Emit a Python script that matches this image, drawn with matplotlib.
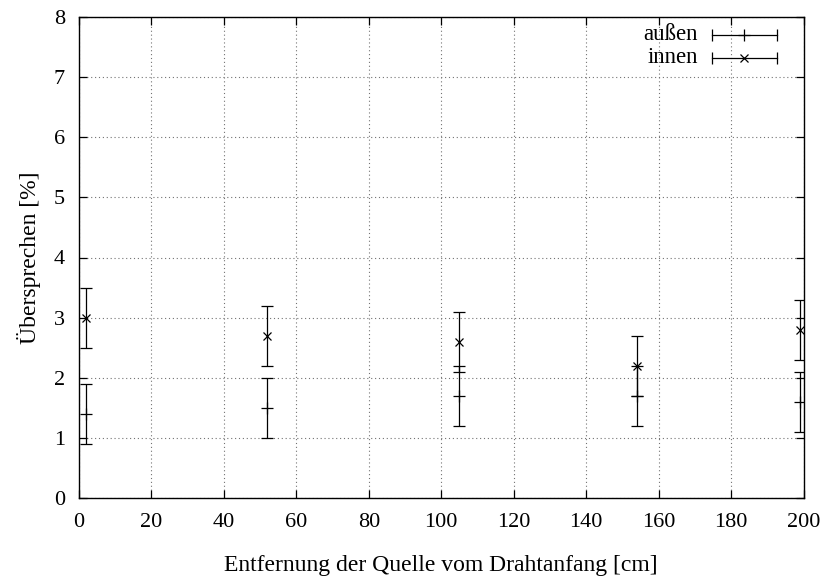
import matplotlib
matplotlib.use("Agg")
import matplotlib.pyplot as plt

plt.rcParams['font.family'] = ['Liberation Serif', 'DejaVu Serif']

x = [2, 52, 105, 154, 199]
aussen = [1.4, 1.5, 1.7, 1.7, 1.6]
aussen_err = [0.5, 0.5, 0.5, 0.5, 0.5]
innen = [3.0, 2.7, 2.6, 2.2, 2.8]
innen_err = [0.5, 0.5, 0.5, 0.5, 0.5]
xticks = [0, 20, 40, 60, 80, 100, 120, 140, 160, 180, 200]
yticks = [0, 1, 2, 3, 4, 5, 6, 7, 8]

FS = 16.5

fig = plt.figure(figsize=(8.24, 5.82), dpi=100)
ax = fig.add_axes([79/824, 1-498/582, 724.5/824, 481/582])

ekw = dict(color='black', linestyle='none', elinewidth=0.9, capsize=4, capthick=0.9,
           markeredgewidth=0.9)
ax.errorbar(x, aussen, yerr=aussen_err, marker='+', markersize=8, **ekw)
ax.errorbar(x, innen, yerr=innen_err, marker='x', markersize=6, **ekw)

ax.set_xlim(0, 200)
ax.set_ylim(0, 8)
ax.set_xticks(xticks)
ax.set_yticks(yticks)
ax.tick_params(direction='in', length=5.5, width=0.9, top=True, right=True,
               labelsize=16)
ax.tick_params(axis='x', pad=11)
ax.tick_params(axis='y', pad=10)
ax.grid(True, linestyle=(0, (1, 2.5)), color='0.45', linewidth=0.8)
for s in ax.spines.values():
    s.set_linewidth(1.0)

ax.set_xlabel('Entfernung der Quelle vom Drahtanfang [cm]', fontsize=17, labelpad=16)
ax.set_ylabel('Übersprechen [%]', fontsize=17, labelpad=9)

# gnuplot-style key
tr = ax.transAxes
for yy, label, mk, ms in [(0.9626, 'außen', '+', 8), (0.9148, 'innen', 'x', 6)]:
    ax.text(0.854, yy, label, transform=tr, ha='right', va='center', fontsize=FS)
    ax.plot([0.874, 0.963], [yy, yy], transform=tr, color='black', lw=0.9, clip_on=False)
    ax.plot([0.874, 0.963], [yy, yy], transform=tr, color='black', lw=0, marker='|',
            markersize=8, markeredgewidth=0.9, clip_on=False)
    ax.plot([0.918], [yy], transform=tr, color='black', lw=0, marker=mk, markersize=ms,
            markeredgewidth=0.9, clip_on=False)

fig.savefig('out.png', dpi=100)
